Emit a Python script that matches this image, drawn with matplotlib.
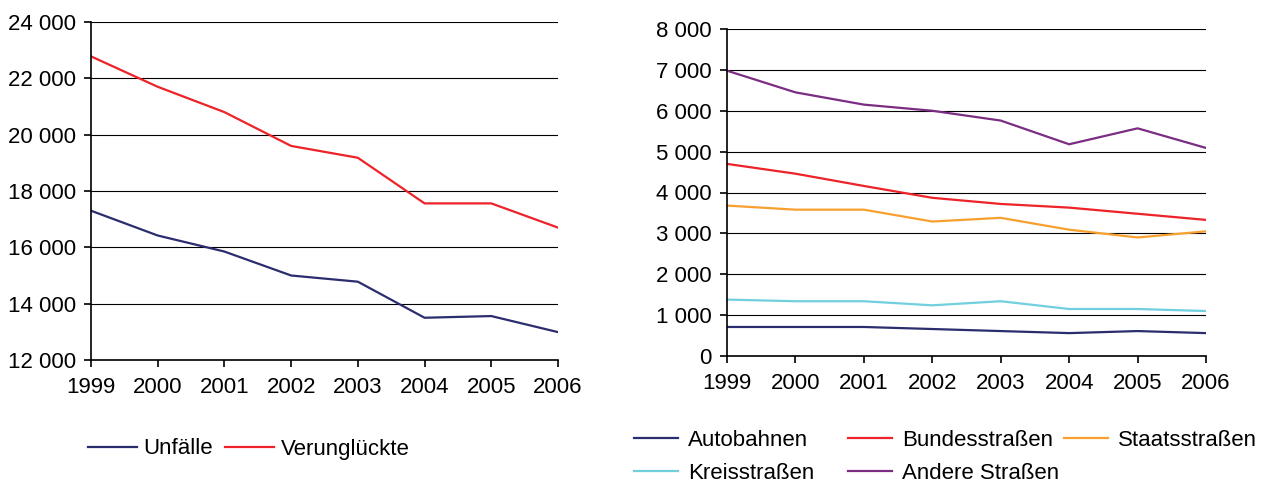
import matplotlib.pyplot as plt
from matplotlib.ticker import FuncFormatter

plt.rcParams['font.family'] = ['Liberation Sans', 'DejaVu Sans']

years = [1999, 2000, 2001, 2002, 2003, 2004, 2005, 2006]

# left chart
unfaelle = [17300, 16420, 15850, 15000, 14780, 13500, 13560, 12990]
verunglueckte = [22780, 21700, 20800, 19600, 19180, 17560, 17560, 16700]

# right chart
autobahnen = [710, 710, 710, 660, 610, 560, 610, 560]
bundesstrassen = [4700, 4460, 4160, 3870, 3720, 3630, 3480, 3330]
staatsstrassen = [3680, 3580, 3580, 3290, 3380, 3090, 2900, 3050]
kreisstrassen = [1380, 1340, 1340, 1240, 1340, 1150, 1150, 1100]
andere = [6980, 6450, 6150, 6000, 5760, 5180, 5570, 5090]

navy = '#2b2d6e'
red = '#ee2229'
orange = '#f7a030'
cyan = '#72cfdd'
purple = '#7b2d83'

fs = 16
W, H = 1266, 482
fig = plt.figure(figsize=(W / 100, H / 100), dpi=100)

fmt = FuncFormatter(lambda v, p: f"{v:,.0f}".replace(",", " "))


def style(ax, ymin, ymax, step):
    ax.set_xlim(years[0], years[-1])
    ax.set_ylim(ymin, ymax)
    ax.set_yticks(range(ymin, ymax + 1, step))
    ax.set_xticks(years)
    ax.yaxis.set_major_formatter(fmt)
    ax.grid(axis='y', color='black', linewidth=0.8)
    ax.set_axisbelow(True)
    for s in ['top', 'right']:
        ax.spines[s].set_visible(False)
    ax.spines['left'].set_linewidth(1.2)
    ax.spines['bottom'].set_linewidth(1.2)
    ax.tick_params(axis='both', labelsize=fs, length=5, width=1.2, direction='out')
    ax.tick_params(axis='y', pad=6)
    ax.tick_params(axis='x', pad=7)


ax1 = fig.add_axes([91 / W, 1 - 360 / H, (558 - 91) / W, (360 - 22) / H])
l1, = ax1.plot(years, unfaelle, color=navy, lw=1.6, label='Unfälle')
l2, = ax1.plot(years, verunglueckte, color=red, lw=1.6, label='Verunglückte')
style(ax1, 12000, 24000, 2000)

ax2 = fig.add_axes([727 / W, 1 - 356 / H, (1206 - 727) / W, (356 - 29) / H])
a, = ax2.plot(years, autobahnen, color=navy, lw=1.6, label='Autobahnen')
b, = ax2.plot(years, bundesstrassen, color=red, lw=1.6, label='Bundesstraßen')
s, = ax2.plot(years, staatsstrassen, color=orange, lw=1.6, label='Staatsstraßen')
k, = ax2.plot(years, kreisstrassen, color=cyan, lw=1.6, label='Kreisstraßen')
n, = ax2.plot(years, andere, color=purple, lw=1.6, label='Andere Straßen')
style(ax2, 0, 8000, 1000)

fig.legend(handles=[l1, l2], loc='center left', bbox_to_anchor=(88 / W, 1 - 449 / H),
           ncol=2, frameon=False, fontsize=fs, handlelength=2.2, handletextpad=0.3,
           columnspacing=0.55, borderpad=0, borderaxespad=0)

# right legend: three columns placed like the original
for x0, hs in [(634, [a, k]), (848, [b, n]), (1064, [s])]:
    top = 1 - 430 / H
    fig.legend(handles=hs, loc='upper left', bbox_to_anchor=(x0 / W, top),
               ncol=1, frameon=False, fontsize=fs, handlelength=2.0, handletextpad=0.45,
               labelspacing=0.52, borderpad=0, borderaxespad=0)

fig.savefig('out.png', dpi=100)
